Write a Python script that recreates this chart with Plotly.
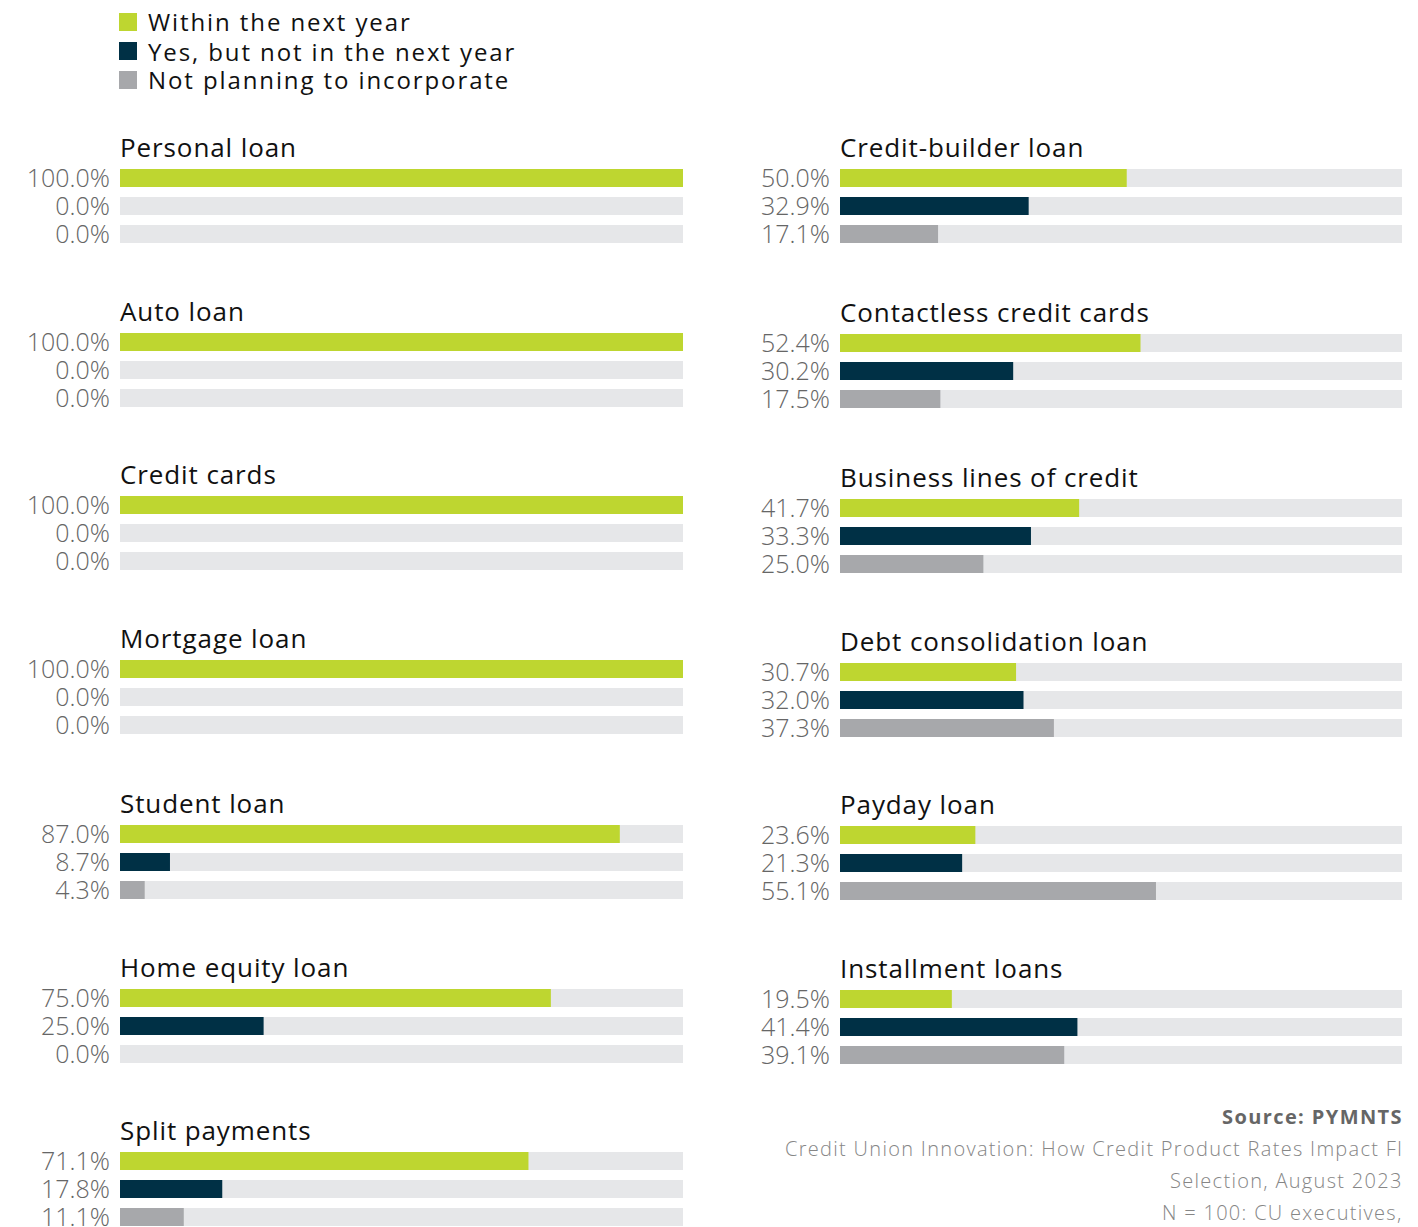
import plotly.graph_objects as go

W, H = 1418, 1227

series_names = ["Within the next year", "Yes, but not in the next year", "Not planning to incorporate"]

left_categories = ["Personal loan", "Auto loan", "Credit cards", "Mortgage loan",
                   "Student loan", "Home equity loan", "Split payments"]
left_within = [100.0, 100.0, 100.0, 100.0, 87.0, 75.0, 71.1]
left_later = [0.0, 0.0, 0.0, 0.0, 8.7, 25.0, 17.8]
left_not = [0.0, 0.0, 0.0, 0.0, 4.3, 0.0, 11.1]

right_categories = ["Credit-builder loan", "Contactless credit cards", "Business lines of credit",
                    "Debt consolidation loan", "Payday loan", "Installment loans"]
right_within = [50.0, 52.4, 41.7, 30.7, 23.6, 19.5]
right_later = [32.9, 30.2, 33.3, 32.0, 21.3, 41.4]
right_not = [17.1, 17.5, 25.0, 37.3, 55.1, 39.1]

source_lines = ["Credit Union Innovation: How Credit Product Rates Impact FI",
                "Selection, August 2023", "N = 100: CU executives,"]

COLORS = ["#bed630", "#003045", "#a7a8ab"]
TRACK = "#e6e7e9"
LABEL_FONT = "Open Sans, sans-serif"
TITLE_FONT = "Open Sans, sans-serif"
SRC_FONT = "Open Sans, sans-serif"


def spaced(text, px):
    return f'<span style="letter-spacing:{px}px">{text}</span>'


# layout geometry (pixels)
left_x = (120, 683)
right_x = (840, 1402)
left_centers = [178, 342, 505, 669, 834, 998, 1161]
right_centers = [178, 343, 508, 672, 835, 999]
PITCH = 28
BAR_W = 18 / PITCH
X_MAX = 98  # visible axis extent (full tracks fill the panel)

fig = go.Figure()
layout_axes = {}
annotations = []
shapes = []

panels = []
for i, cat in enumerate(left_categories):
    panels.append((cat, [left_within[i], left_later[i], left_not[i]], left_x, left_centers[i]))
for i, cat in enumerate(right_categories):
    panels.append((cat, [right_within[i], right_later[i], right_not[i]], right_x, right_centers[i]))

for k, (cat, vals, xr, c0) in enumerate(panels):
    n = k + 1
    xa = "x" if n == 1 else f"x{n}"
    ya = "y" if n == 1 else f"y{n}"
    top = c0 - PITCH / 2
    bottom = min(c0 + 2 * PITCH + PITCH / 2, H)
    rows = [0, 1, 2]
    y_lo = -0.5 + (bottom - top) / PITCH
    fig.add_trace(go.Bar(x=[100, 100, 100], y=rows, orientation="h", width=BAR_W,
                         marker=dict(color=TRACK, line=dict(width=0)),
                         showlegend=False, hoverinfo="skip", xaxis=xa, yaxis=ya))
    for j in range(3):
        fig.add_trace(go.Bar(x=[vals[j]], y=[rows[j]], orientation="h", width=BAR_W,
                             marker=dict(color=COLORS[j], line=dict(width=0)),
                             name=series_names[j], showlegend=False,
                             xaxis=xa, yaxis=ya))
    xkey = "xaxis" if n == 1 else f"xaxis{n}"
    ykey = "yaxis" if n == 1 else f"yaxis{n}"
    layout_axes[xkey] = dict(domain=[xr[0] / W, xr[1] / W], range=[0, X_MAX], visible=False,
                             anchor=ya, fixedrange=True, automargin=False)
    layout_axes[ykey] = dict(domain=[max(0.0, 1 - bottom / H), 1 - top / H], range=[y_lo, -0.5],
                             anchor=xa, tickvals=rows,
                             ticktext=[f"{v:.1f}%" for v in vals],
                             tickfont=dict(family=LABEL_FONT, size=25, color="#666666", weight=300),
                             showgrid=False, zeroline=False, showline=False, ticks="",
                             ticklabelstandoff=9, ticklabeloverflow="allow", fixedrange=True,
                             automargin=False)
    annotations.append(dict(text=spaced(cat, 0.9), x=(xr[0] - 2) / W, y=1 - (c0 - 31) / H,
                            xref="paper", yref="paper",
                            xanchor="left", yanchor="middle", showarrow=False,
                            font=dict(family=TITLE_FONT, size=26, color="#111111")))

# legend (squares + labels)
legend_rows = [22, 51, 80]
for j in range(3):
    yc = legend_rows[j]
    shapes.append(dict(type="rect", xref="paper", yref="paper",
                       x0=119 / W, x1=137 / W, y0=1 - (yc + 9) / H, y1=1 - (yc - 9) / H,
                       fillcolor=COLORS[j], line=dict(width=0)))
    annotations.append(dict(text=spaced(series_names[j], 1.9), x=146 / W, y=1 - yc / H,
                            xref="paper", yref="paper", xanchor="left", yanchor="middle",
                            showarrow=False, font=dict(family=TITLE_FONT, size=24, color="#111111")))

annotations.append(dict(text=spaced("<b>Source: PYMNTS</b>", 1.4), x=1405 / W, y=1 - 1116 / H,
                        xref="paper", yref="paper",
                        xanchor="right", yanchor="middle", showarrow=False,
                        font=dict(family=SRC_FONT, size=20, color="#666666")))
for i, line in enumerate(source_lines):
    annotations.append(dict(text=spaced(line, 1.3), x=1405 / W, y=1 - (1148 + 32 * i) / H,
                            xref="paper", yref="paper",
                            xanchor="right", yanchor="middle", showarrow=False,
                            font=dict(family=SRC_FONT, size=20, color="#868686", weight=300)))

fig.update_layout(
    width=W, height=H, margin=dict(l=0, r=0, t=0, b=0, autoexpand=False),
    paper_bgcolor="white", plot_bgcolor="white",
    barmode="overlay", annotations=annotations, shapes=shapes, showlegend=False,
    **layout_axes,
)

fig.write_html("out.html")
